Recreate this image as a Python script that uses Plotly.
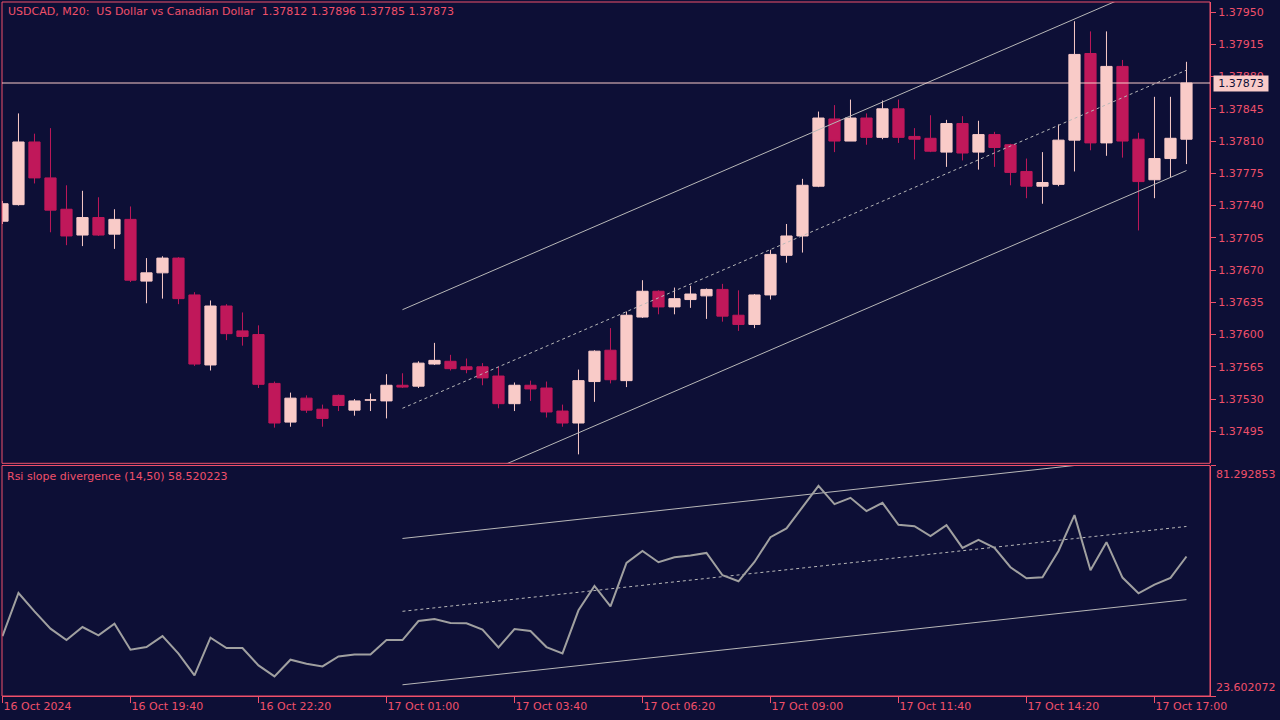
import plotly.graph_objects as go

# ---- data -------------------------------------------------------------
opens = [1.37723, 1.37741, 1.37809, 1.37770, 1.37736, 1.37708, 1.37727, 1.37709, 1.37725, 1.37658,
         1.37667, 1.37683, 1.37643, 1.37567, 1.37631, 1.37604, 1.37600, 1.37547, 1.37505, 1.37531,
         1.37519, 1.37534, 1.37518, 1.37529, 1.37528, 1.37545, 1.37544, 1.37568, 1.37571, 1.37565,
         1.37565, 1.37555, 1.37525, 1.37545, 1.37542, 1.37517, 1.37504, 1.37549, 1.37583, 1.37550,
         1.37619, 1.37647, 1.37630, 1.37638, 1.37642, 1.37649, 1.37621, 1.37611, 1.37643, 1.37686,
         1.37707, 1.37761, 1.37834, 1.37810, 1.37835, 1.37814, 1.37845, 1.37815, 1.37813, 1.37798,
         1.37829, 1.37798, 1.37817, 1.37806, 1.37777, 1.37761, 1.37763, 1.37811, 1.37905, 1.37808,
         1.37891, 1.37812, 1.37768, 1.37791, 1.37812]
highs = [1.37745, 1.37840, 1.37818, 1.37824, 1.37762, 1.37756, 1.37749, 1.37736, 1.37739, 1.37683,
         1.37685, 1.37684, 1.37646, 1.37637, 1.37633, 1.37624, 1.37610, 1.37549, 1.37537, 1.37534,
         1.37524, 1.37535, 1.37530, 1.37536, 1.37557, 1.37558, 1.37571, 1.37591, 1.37578, 1.37574,
         1.37569, 1.37565, 1.37548, 1.37550, 1.37549, 1.37524, 1.37562, 1.37583, 1.37607, 1.37625,
         1.37659, 1.37648, 1.37651, 1.37653, 1.37650, 1.37655, 1.37648, 1.37644, 1.37692, 1.37720,
         1.37769, 1.37842, 1.37849, 1.37855, 1.37840, 1.37854, 1.37855, 1.37824, 1.37838, 1.37833,
         1.37837, 1.37832, 1.37820, 1.37807, 1.37791, 1.37798, 1.37828, 1.37940, 1.37929, 1.37929,
         1.37898, 1.37819, 1.37858, 1.37858, 1.37896]
lows = [1.37720, 1.37740, 1.37764, 1.37711, 1.37697, 1.37696, 1.37707, 1.37693, 1.37657, 1.37634,
        1.37639, 1.37633, 1.37566, 1.37561, 1.37594, 1.37588, 1.37542, 1.37499, 1.37500, 1.37515,
        1.37500, 1.37517, 1.37512, 1.37517, 1.37509, 1.37542, 1.37542, 1.37567, 1.37561, 1.37558,
        1.37545, 1.37520, 1.37517, 1.37528, 1.37510, 1.37500, 1.37470, 1.37527, 1.37547, 1.37543,
        1.37618, 1.37622, 1.37622, 1.37629, 1.37617, 1.37614, 1.37604, 1.37607, 1.37638, 1.37678,
        1.37689, 1.37760, 1.37798, 1.37810, 1.37806, 1.37812, 1.37808, 1.37790, 1.37798, 1.37782,
        1.37789, 1.37779, 1.37782, 1.37762, 1.37748, 1.37742, 1.37761, 1.37777, 1.37800, 1.37794,
        1.37792, 1.37713, 1.37748, 1.37771, 1.37785]
closes = [1.37742, 1.37809, 1.37770, 1.37735, 1.37707, 1.37727, 1.37708, 1.37725, 1.37659, 1.37667,
          1.37683, 1.37639, 1.37568, 1.37631, 1.37601, 1.37598, 1.37546, 1.37504, 1.37531, 1.37518,
          1.37509, 1.37523, 1.37528, 1.37529, 1.37545, 1.37543, 1.37569, 1.37572, 1.37563, 1.37562,
          1.37553, 1.37525, 1.37545, 1.37541, 1.37516, 1.37504, 1.37550, 1.37582, 1.37551, 1.37621,
          1.37647, 1.37630, 1.37639, 1.37644, 1.37649, 1.37620, 1.37611, 1.37643, 1.37687, 1.37707,
          1.37762, 1.37835, 1.37810, 1.37835, 1.37814, 1.37845, 1.37814, 1.37812, 1.37799, 1.37829,
          1.37797, 1.37817, 1.37803, 1.37776, 1.37761, 1.37765, 1.37811, 1.37904, 1.37808, 1.37891,
          1.37810, 1.37766, 1.37791, 1.37813, 1.37873]

rsi = [38.60, 49.39, 44.80, 40.46, 37.60, 40.86, 38.78, 41.71, 35.19, 35.85,
       38.60, 34.19, 28.75, 38.20, 35.60, 35.60, 31.26, 28.50, 32.68, 31.68,
       31.00, 33.51, 34.01, 34.01, 37.60, 37.60, 42.37, 42.87, 41.86, 41.79,
       40.21, 35.77, 40.36, 39.86, 35.85, 34.27, 45.05, 51.15, 46.05, 56.91,
       59.92, 57.09, 58.34, 58.77, 59.42, 53.83, 52.32, 57.16, 63.36, 65.54,
       70.88, 76.22, 71.63, 73.21, 69.88, 71.96, 66.44, 66.12, 63.61, 66.37,
       60.67, 62.68, 60.67, 55.83, 53.07, 53.33, 59.92, 68.88, 55.08, 62.10,
       53.25, 49.31, 51.49, 53.15, 58.52]

bars = list(range(len(opens)))

# regression channel end points (bar index, value)
channel_bars = [25, 74]
price_upper = [1.37627, 1.37995]
price_mid = [1.37520, 1.37887]
price_lower = [1.37411, 1.37778]
rsi_upper = [63.03, 84.35]
rsi_mid = [44.80, 66.04]
rsi_lower = [26.41, 47.73]

xtick_bars = [0, 8, 16, 24, 32, 40, 48, 56, 64, 72]
xtick_labels = ["16 Oct 2024", "16 Oct 19:40", "16 Oct 22:20", "17 Oct 01:00", "17 Oct 03:40",
                "17 Oct 06:20", "17 Oct 09:00", "17 Oct 11:40", "17 Oct 14:20", "17 Oct 17:00"]
price_ticks = [1.37495, 1.37530, 1.37565, 1.37600, 1.37635, 1.37670, 1.37705,
               1.37740, 1.37775, 1.37810, 1.37845, 1.37880, 1.37915, 1.37950]
price_range = [1.374603, 1.379609]
rsi_range = [23.602072, 81.292853]
last_price = 1.37873
last_rsi = 58.520223

# ---- style --------------------------------------------------------------
BG = "#0d0f36"
AXIS = "#f0506a"
BULL = "#f9cbc8"
BEAR = "#c0185a"
RSI_COL = "#a0a0a0"
CH_COL = "#b8b8b8"
FONT = "DejaVu Sans"

fig = go.Figure()

fig.add_trace(go.Candlestick(
    x=bars, open=opens, high=highs, low=lows, close=closes,
    increasing=dict(fillcolor=BULL, line=dict(color=BULL, width=1)),
    decreasing=dict(fillcolor=BEAR, line=dict(color=BEAR, width=1)),
    whiskerwidth=0, xaxis="x", yaxis="y", showlegend=False, hoverinfo="skip"))

for vals, dash in ((price_upper, "solid"), (price_mid, "dot"), (price_lower, "solid")):
    fig.add_trace(go.Scatter(x=channel_bars, y=vals, mode="lines", xaxis="x", yaxis="y",
                             line=dict(color=CH_COL, width=1, dash=dash), showlegend=False,
                             hoverinfo="skip"))

for vals, dash in ((rsi_upper, "solid"), (rsi_mid, "dot"), (rsi_lower, "solid")):
    fig.add_trace(go.Scatter(x=channel_bars, y=vals, mode="lines", xaxis="x", yaxis="y2",
                             line=dict(color=CH_COL, width=1, dash=dash), showlegend=False,
                             hoverinfo="skip"))

fig.add_trace(go.Scatter(x=bars, y=rsi, mode="lines", xaxis="x", yaxis="y2",
                         line=dict(color=RSI_COL, width=2), showlegend=False, hoverinfo="skip"))

MAIN_DOM = [0.3353, 1.0]
IND_DOM = [0.0, 0.3321]

fig.update_layout(
    width=1280, height=720,
    margin=dict(l=2, r=70, t=2, b=24),
    paper_bgcolor=BG, plot_bgcolor=BG,
    boxgap=0.3, boxgroupgap=0,
    font=dict(family=FONT, size=11, color=AXIS),
    xaxis=dict(range=[-0.03, 75.47], anchor="y2", tickvals=xtick_bars, ticktext=xtick_labels,
               ticks="outside", ticklen=6, tickcolor=AXIS, ticklabelposition="outside right",
               tickfont=dict(family=FONT, size=11, color=AXIS), showgrid=False, zeroline=False,
               showline=True, linecolor=AXIS, rangeslider=dict(visible=False), fixedrange=True),
    yaxis=dict(domain=MAIN_DOM, range=price_range, side="right", anchor="x",
               tickvals=price_ticks, tickformat=".5f", ticks="outside", ticklen=5,
               tickcolor=AXIS, showline=True, linecolor=AXIS, showgrid=False, zeroline=False,
               tickfont=dict(family=FONT, size=11, color=AXIS)),
    yaxis2=dict(domain=IND_DOM, range=rsi_range, side="right", anchor="x",
                tickvals=rsi_range, showticklabels=False, ticks="outside", ticklen=5,
                tickcolor=AXIS, showline=True, linecolor=AXIS, showgrid=False, zeroline=False),
)

shapes = [
    dict(type="rect", xref="x domain", yref="y domain", x0=0, x1=1, y0=0, y1=1,
         line=dict(color=AXIS, width=1), layer="above"),
    dict(type="rect", xref="x domain", yref="y2 domain", x0=0, x1=1, y0=0, y1=1,
         line=dict(color=AXIS, width=1), layer="above"),
    dict(type="line", xref="x domain", yref="y", x0=0, x1=1, y0=last_price, y1=last_price,
         line=dict(color=BULL, width=1), layer="above"),
]
fig.update_layout(shapes=shapes)

annotations = [
    dict(xref="paper", yref="paper", x=0, y=1, xanchor="left", yanchor="top", xshift=4, yshift=-1,
         text="USDCAD, M20:  US Dollar vs Canadian Dollar  %.5f %.5f %.5f %.5f"
              % (opens[-1], highs[-1], lows[-1], closes[-1]),
         showarrow=False, font=dict(family=FONT, size=11, color=AXIS)),
    dict(xref="paper", yref="y2 domain", x=0, y=1, xanchor="left", yanchor="top", xshift=3, yshift=-2,
         text="Rsi slope divergence (14,50) %.6f" % last_rsi,
         showarrow=False, font=dict(family=FONT, size=11, color=AXIS)),
    dict(xref="paper", yref="y", x=1, y=last_price, xanchor="left", yanchor="middle", xshift=3,
         text="%.5f" % last_price, showarrow=False, bgcolor=BULL, borderpad=1, width=52,
         font=dict(family=FONT, size=11, color=BG)),
    dict(xref="paper", yref="y2", x=1, y=rsi_range[1], xanchor="left", yanchor="top", xshift=4,
         text="%.6f" % rsi_range[1], showarrow=False, font=dict(family=FONT, size=11, color=AXIS)),
    dict(xref="paper", yref="y2", x=1, y=rsi_range[0], xanchor="left", yanchor="bottom", xshift=4,
         text="%.6f" % rsi_range[0], showarrow=False, font=dict(family=FONT, size=11, color=AXIS)),
]
fig.update_layout(annotations=annotations)

fig.write_html("out.html", config={"displayModeBar": False},
               post_script="document.body.style.margin='0';document.body.style.background='%s';" % BG)
